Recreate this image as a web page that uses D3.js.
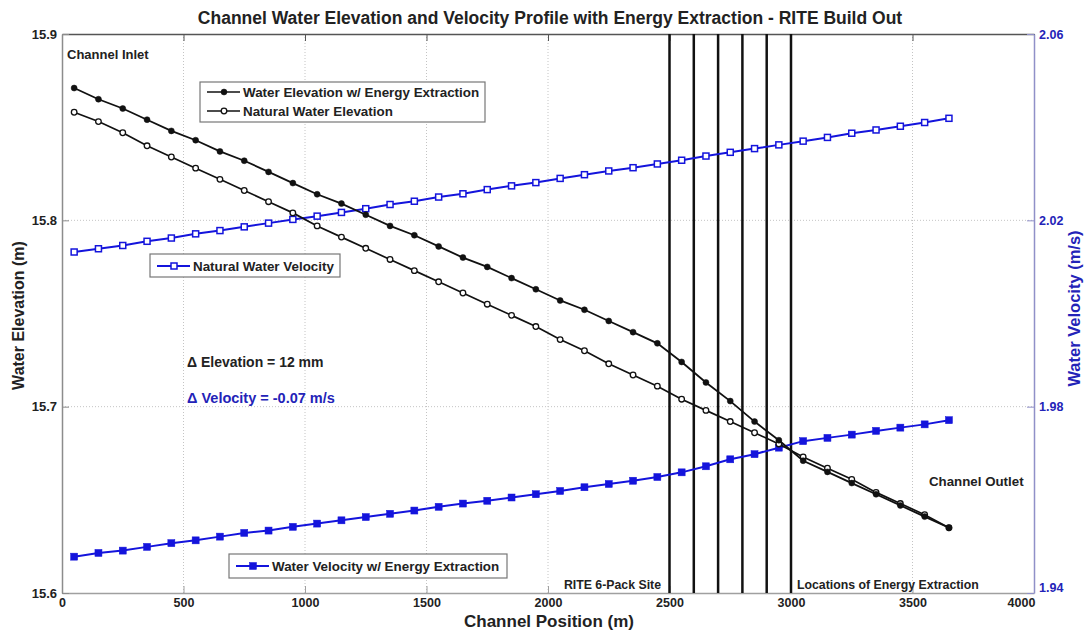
<!DOCTYPE html>
<html>
<head>
<meta charset="utf-8">
<script src="https://cdn.jsdelivr.net/npm/d3@7"></script>
<style>
  body { margin: 0; background: #fff; }
  text { font-family: "Liberation Sans", Arial, sans-serif; font-weight: bold; }
</style>
</head>
<body>
<script>
// chart data
var positions = [50, 150, 250, 350, 450, 550, 650, 750, 850, 950, 1050, 1150, 1250, 1350, 1450, 1550, 1650, 1750, 1850, 1950,
  2050, 2150, 2250, 2350, 2450, 2550, 2650, 2750, 2850, 2950, 3050, 3150, 3250, 3350, 3450, 3550, 3650];

var elevEnergy = [15.871, 15.865, 15.860, 15.854, 15.848, 15.843, 15.837, 15.832, 15.826, 15.820, 15.814, 15.809, 15.803,
  15.797, 15.792, 15.786, 15.780, 15.775, 15.769, 15.763, 15.757, 15.752, 15.746, 15.740, 15.734, 15.724, 15.713, 15.703,
  15.692, 15.682, 15.671, 15.665, 15.659, 15.653, 15.647, 15.641, 15.635];

var elevNatural = [15.858, 15.853, 15.847, 15.840, 15.834, 15.828, 15.822, 15.816, 15.810, 15.804, 15.797, 15.791, 15.785,
  15.779, 15.773, 15.767, 15.761, 15.755, 15.749, 15.743, 15.736, 15.730, 15.723, 15.717, 15.711, 15.704, 15.698, 15.692,
  15.686, 15.680, 15.673, 15.667, 15.661, 15.654, 15.648, 15.642, 15.635];

var velNatural = [2.0132, 2.0139, 2.0146, 2.0155, 2.0162, 2.0171, 2.0178, 2.0186, 2.0194, 2.0202, 2.0209, 2.0217, 2.0225,
  2.0234, 2.0241, 2.0250, 2.0257, 2.0266, 2.0274, 2.0281, 2.0290, 2.0298, 2.0306, 2.0313, 2.0321, 2.0329, 2.0338, 2.0346,
  2.0354, 2.0362, 2.0370, 2.0378, 2.0387, 2.0394, 2.0402, 2.0410, 2.0419];

var velEnergy = [1.9478, 1.9486, 1.9491, 1.9499, 1.9507, 1.9513, 1.9521, 1.9529, 1.9534, 1.9542, 1.9549, 1.9556, 1.9563,
  1.9570, 1.9577, 1.9585, 1.9592, 1.9598, 1.9605, 1.9612, 1.9619, 1.9627, 1.9634, 1.9641, 1.9649, 1.9659, 1.9672, 1.9687,
  1.9698, 1.9712, 1.9726, 1.9733, 1.9740, 1.9748, 1.9755, 1.9762, 1.9771];

var extractionSites = [2500, 2600, 2700, 2800, 2900, 3000];

var xTicks = [0, 500, 1000, 1500, 2000, 2500, 3000, 3500, 4000];
var yLeftTicks = [15.6, 15.7, 15.8, 15.9];
var yRightTicks = [1.94, 1.98, 2.02, 2.06];

var svgWidth = 1085;
var svgHeight = 630;
var margin = { top: 34, right: 51, bottom: 37, left: 62 };
var width = svgWidth - margin.left - margin.right;
var height = svgHeight - margin.top - margin.bottom;

var blue = "#1414dc";
var blueText = "#2323b8";

var svg = d3.select("body").append("svg")
  .attr("width", svgWidth)
  .attr("height", svgHeight);

var group = svg.append("g")
  .attr("transform", `translate(${margin.left}, ${margin.top})`);

var xScale = d3.scaleLinear().domain([0, 4000]).range([0, width]);
var yLeft = d3.scaleLinear().domain([15.6, 15.9]).range([height, 0]);
var yRight = d3.scaleLinear().domain([1.94, 2.06]).range([height, 0]);

// dotted grid
group.append("g").selectAll("line")
  .data(xTicks.slice(1, -1))
  .enter().append("line")
  .attr("x1", d => xScale(d)).attr("x2", d => xScale(d))
  .attr("y1", 0).attr("y2", height)
  .attr("stroke", "#c4c4c4").attr("stroke-dasharray", "1,2");

group.append("g").selectAll("line")
  .data(yLeftTicks.slice(1, -1))
  .enter().append("line")
  .attr("x1", 0).attr("x2", width)
  .attr("y1", d => yLeft(d)).attr("y2", d => yLeft(d))
  .attr("stroke", "#c4c4c4").attr("stroke-dasharray", "1,2");

// axes
var bottomAxis = d3.axisBottom(xScale).tickValues(xTicks).tickSizeInner(-7).tickSizeOuter(0).tickPadding(5).tickFormat(d3.format("d"));
var topAxis = d3.axisTop(xScale).tickValues(xTicks).tickSizeInner(-7).tickSizeOuter(0).tickFormat("");
var leftAxis = d3.axisLeft(yLeft).tickValues(yLeftTicks).tickSizeInner(-7).tickSizeOuter(0).tickPadding(5).tickFormat(d3.format(".1f"));
var rightAxis = d3.axisRight(yRight).tickValues(yRightTicks).tickSizeInner(-7).tickSizeOuter(0).tickPadding(5).tickFormat(d3.format(".2f"));

function styleAxis(g, lineColor, textColor, size) {
  g.select(".domain").attr("stroke", lineColor).attr("stroke-width", 1.5);
  g.selectAll(".tick line").attr("stroke", lineColor);
  g.selectAll(".tick text").attr("fill", textColor).style("font-size", size + "px").style("font-weight", "bold")
    .style("font-family", '"Liberation Sans", Arial, sans-serif');
}

var xAxisG = group.append("g").attr("class", "x axis").attr("transform", "translate(0," + height + ")")
  .call(bottomAxis).call(g => styleAxis(g, "#a0a0a0", "#222", 12.5));
group.append("g").attr("class", "x axis top").call(topAxis).call(g => styleAxis(g, "#555", "#222", 12));
group.append("g").attr("class", "y axis").call(leftAxis).call(g => styleAxis(g, "#8c8c8c", "#222", 13));
var rightAxisG = group.append("g").attr("class", "y axis right").attr("transform", "translate(" + width + ",0)")
  .call(rightAxis).call(g => styleAxis(g, "#9090c8", blueText, 12.5));

// corner labels nudged apart like the original
xAxisG.selectAll(".tick text").filter(d => d === 4000).attr("dx", -13);
rightAxisG.selectAll(".tick text").filter(d => d === 1.94).attr("y", -6);

// extraction site lines
group.append("g").selectAll("line")
  .data(extractionSites)
  .enter().append("line")
  .attr("x1", d => xScale(d)).attr("x2", d => xScale(d))
  .attr("y1", 0).attr("y2", height)
  .attr("stroke", "#111").attr("stroke-width", 2.5);

// series
function drawLine(values, yScale, color, w) {
  var line = d3.line()
    .x((d, i) => xScale(positions[i]))
    .y(d => yScale(d));
  group.append("path").datum(values)
    .attr("d", line)
    .attr("fill", "none")
    .attr("stroke", color)
    .attr("stroke-width", w);
}

function drawCircles(values, filled) {
  group.append("g").selectAll("circle")
    .data(values)
    .enter().append("circle")
    .attr("cx", (d, i) => xScale(positions[i]))
    .attr("cy", d => yLeft(d))
    .attr("r", filled ? 3 : 2.8)
    .attr("fill", filled ? "#111" : "#fff")
    .attr("stroke", "#111")
    .attr("stroke-width", filled ? 0.5 : 1.3);
}

function drawSquares(values, filled) {
  var s = filled ? 7 : 6;
  group.append("g").selectAll("rect")
    .data(values)
    .enter().append("rect")
    .attr("x", (d, i) => xScale(positions[i]) - s / 2)
    .attr("y", d => yRight(d) - s / 2)
    .attr("width", s).attr("height", s)
    .attr("fill", filled ? blue : "#fff")
    .attr("stroke", blue)
    .attr("stroke-width", filled ? 0.5 : 1.5);
}

drawLine(velNatural, yRight, blue, 2);
drawSquares(velNatural, false);
drawLine(velEnergy, yRight, blue, 2);
drawSquares(velEnergy, true);
drawLine(elevNatural, yLeft, "#111", 1.7);
drawCircles(elevNatural, false);
drawLine(elevEnergy, yLeft, "#111", 1.8);
drawCircles(elevEnergy, true);

// legends
function legendBox(x, y, w, h, items) {
  var lg = svg.append("g");
  lg.append("rect").attr("x", x).attr("y", y).attr("width", w).attr("height", h)
    .attr("fill", "#fff").attr("stroke", "#777").attr("stroke-width", 1.2);
  items.forEach(function(it, k) {
    var cy = y + it.dy;
    lg.append("line").attr("x1", x + 7).attr("x2", x + 40).attr("y1", cy).attr("y2", cy)
      .attr("stroke", it.color).attr("stroke-width", it.color === "#111" ? 1.7 : 2);
    if (it.marker === "circle") {
      lg.append("circle").attr("cx", x + 24).attr("cy", cy).attr("r", it.filled ? 3 : 2.8)
        .attr("fill", it.filled ? "#111" : "#fff").attr("stroke", "#111").attr("stroke-width", it.filled ? 0.5 : 1.3);
    } else {
      var s = it.filled ? 7 : 6;
      lg.append("rect").attr("x", x + 24 - s / 2).attr("y", cy - s / 2).attr("width", s).attr("height", s)
        .attr("fill", it.filled ? blue : "#fff").attr("stroke", blue).attr("stroke-width", it.filled ? 0.5 : 1.5);
    }
    lg.append("text").attr("x", x + 43).attr("y", cy).attr("dy", "0.35em")
      .attr("fill", "#222").style("font-size", "13.4px").text(it.label);
  });
}

legendBox(200, 82, 285, 40, [
  { label: "Water Elevation w/ Energy Extraction", marker: "circle", filled: true, color: "#111", dy: 10 },
  { label: "Natural Water Elevation", marker: "circle", filled: false, color: "#111", dy: 29 }
]);
legendBox(150, 254, 190, 23, [
  { label: "Natural Water Velocity", marker: "square", filled: false, color: blue, dy: 12 }
]);
legendBox(229, 554, 278, 24, [
  { label: "Water Velocity w/ Energy Extraction", marker: "square", filled: true, color: blue, dy: 12 }
]);

// annotations
function label(x, y, txt, size, color, anchor) {
  svg.append("text").attr("x", x).attr("y", y).attr("dy", "0.35em")
    .attr("text-anchor", anchor || "start")
    .attr("fill", color).style("font-size", size + "px").text(txt);
}

label(550, 18, "Channel Water Elevation and Velocity Profile with Energy Extraction - RITE Build Out", 17.5, "#222", "middle");
label(67, 54, "Channel Inlet", 13, "#222");
label(929, 481, "Channel Outlet", 13.3, "#222");
label(661, 585, "RITE 6-Pack Site", 12.3, "#222", "end");
label(797, 585, "Locations of Energy Extraction", 12.3, "#222");
label(187, 362, "\u0394 Elevation = 12 mm", 14, "#222");
label(187, 398, "\u0394 Velocity = -0.07 m/s", 14.5, blueText);
label(549, 621, "Channel Position (m)", 17, "#222", "middle");

svg.append("text")
  .attr("transform", "translate(18," + (margin.top + height / 2 + 2) + ") rotate(-90)")
  .attr("text-anchor", "middle").attr("dy", "0.35em")
  .attr("fill", "#222").style("font-size", "16px")
  .text("Water Elevation (m)");

svg.append("text")
  .attr("transform", "translate(1074," + (margin.top + height / 2 - 5) + ") rotate(-90)")
  .attr("text-anchor", "middle").attr("dy", "0.35em")
  .attr("fill", blueText).style("font-size", "16.5px")
  .text("Water Velocity (m/s)");
</script>
</body>
</html>
